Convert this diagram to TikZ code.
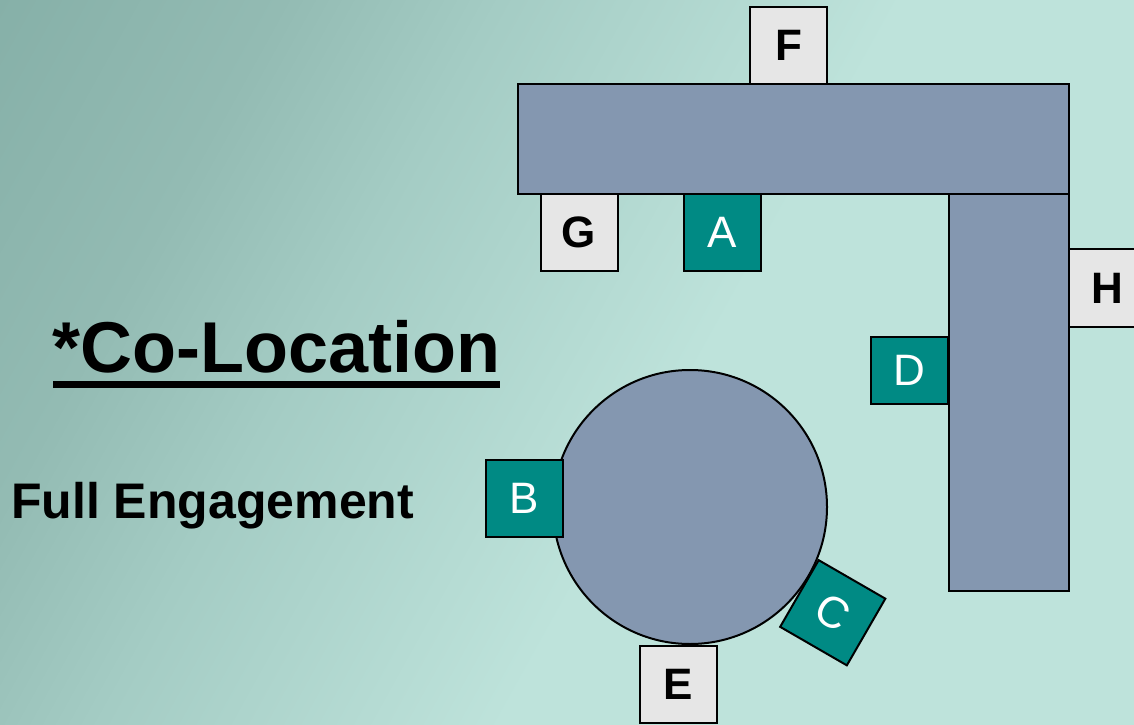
\documentclass[tikz,border=0pt]{standalone}
\usepackage{fontspec}
\setmainfont{Liberation Sans}
\definecolor{barc}{HTML}{8497B0}
\definecolor{tealc}{HTML}{008A84}
\definecolor{boxgray}{HTML}{E6E6E6}
\definecolor{bg0}{HTML}{86B0A8}
\definecolor{bg1}{HTML}{93BBB3}
\definecolor{bg2}{HTML}{A4CCC4}
\definecolor{bg3}{HTML}{BEE3DB}
\pgfdeclarehorizontalshading{bgshade}{1600bp}{color(0bp)=(bg0); color(250bp)=(bg1); color(440bp)=(bg2); color(790bp)=(bg3); color(1400bp)=(bg3)}
\tikzset{
  barshape/.style={draw=black, line width=2pt, fill=barc},
  graybox/.style={draw=black, line width=2pt, fill=boxgray, minimum width=77pt, minimum height=77pt, inner sep=0pt, font=\fontsize{44}{44}\selectfont\bfseries, text=black},
  tealbox/.style={draw=black, line width=2pt, fill=tealc, minimum width=77pt, minimum height=77pt, inner sep=0pt, font=\fontsize{44}{44}\selectfont, text=white},
}
\begin{document}
\begin{tikzpicture}[x=1pt,y=1pt]
\useasboundingbox (0,0) rectangle (1134,724);
\begin{scope}
  \clip (0,0) rectangle (1134,724);
  \pgftransformshift{\pgfpoint{612pt}{385pt}}
  \pgftransformrotate{-29}
  \pgflowlevelsynccm
  \pgfuseshading{bgshade}
\end{scope}
% L-shaped table
\filldraw[barshape] (518,640) rectangle (1069,530);
\filldraw[barshape] (949,530) rectangle (1069,133);
\node[graybox] (F) at (788.5,678.5) {F};
\node[graybox] (G) at (579,491.5) {G};
\node[tealbox] (A) at (722.5,491.5) {A};
\node[graybox] (H) at (1107.5,436) {H};
\node[tealbox, minimum height=67pt] (D) at (909.5,353.5) {D};
% round table
\node[circle, draw=black, line width=2pt, fill=barc, minimum size=274pt, inner sep=0pt] (table) at (690,217) {};
\node[tealbox] (B) at (524,226) {B};
\node[tealbox, rotate=-30] (C) at (832.75,111.25) {C};
\node[graybox] (E) at (678.5,39.5) {E};
% texts
\node[anchor=base west, inner sep=0pt, font=\fontsize{72}{72}\selectfont\bfseries] (title) at (52,352) {*Co-Location};
\fill (53,343) rectangle (500,336);
\node[anchor=base west, inner sep=0pt, font=\fontsize{50}{50}\selectfont\bfseries] (sub) at (11,206) {Full Engagement};
\end{tikzpicture}
\end{document}
